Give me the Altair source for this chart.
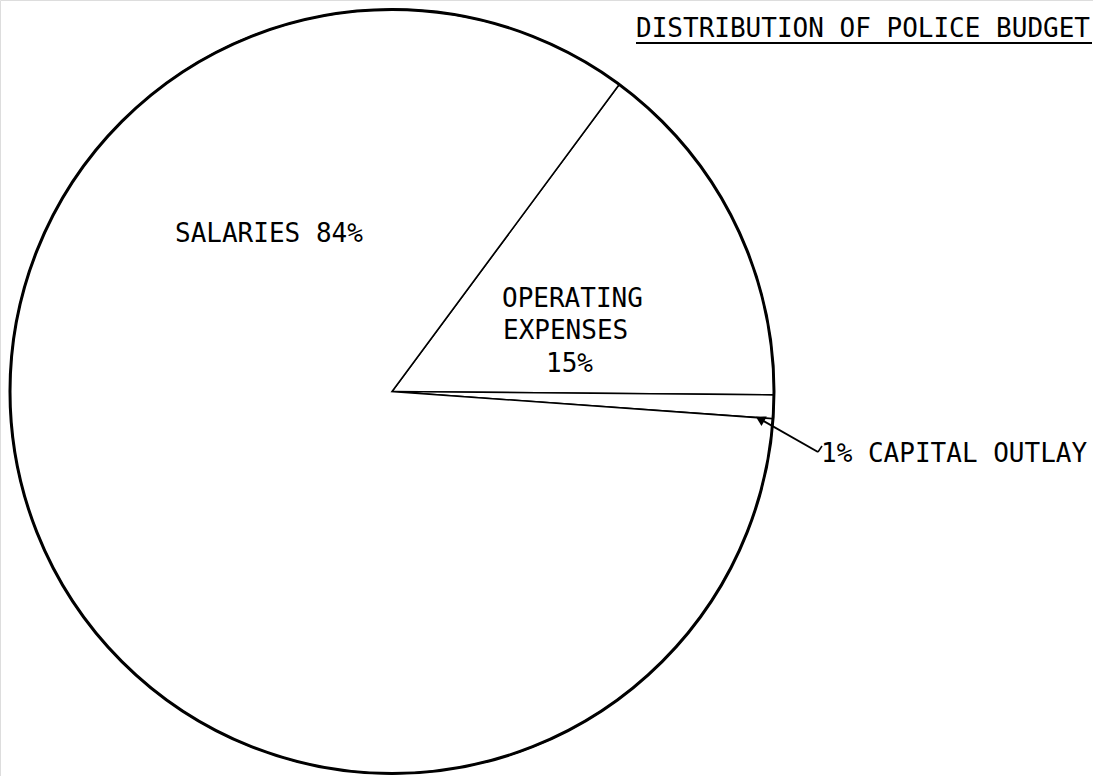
import math
import altair as alt
import pandas as pd

# Data
categories = ["OPERATING EXPENSES", "CAPITAL OUTLAY", "SALARIES"]
shares = [15, 1, 84]
order = [1, 2, 3]

title_text = "DISTRIBUTION OF POLICE BUDGET"
salaries_label = "SALARIES 84%"
operating_lines = ["OPERATING", "EXPENSES", "15%"]
capital_label = "1% CAPITAL OUTLAY"

FONT = "DejaVu Sans Mono"
FS = 26
CX, CY, R = 392, 391.5, 382
start = math.radians(36.5)

df = pd.DataFrame({"category": categories, "share": shares, "order": order})

W, H = 1093, 776

pie = alt.Chart(df).mark_arc(
    x=CX, y=CY, radius=R, fill="white", stroke="black", strokeWidth=1.6
).encode(
    theta=alt.Theta("share:Q", stack=True,
                    scale=alt.Scale(range=[start, start + 2 * math.pi])),
    order=alt.Order("order:O"),
)

outline = alt.Chart(pd.DataFrame({"a": [0]})).mark_arc(
    x=CX, y=CY, radius=R, fill=None, stroke="black", strokeWidth=3
).encode(theta=alt.value(0), theta2=alt.value(2 * math.pi))

def text_layer(txt, x, y, align="left"):
    return alt.Chart(pd.DataFrame({"t": [txt]})).mark_text(
        font=FONT, fontSize=FS, align=align, baseline="alphabetic", color="black"
    ).encode(text="t:N", x=alt.value(x), y=alt.value(y))

title = text_layer(title_text, 1090, 37, align="right")
underline = alt.Chart(pd.DataFrame({"a": [0]})).mark_rule(
    color="black", strokeWidth=2
).encode(x=alt.value(636), x2=alt.value(1092), y=alt.value(43))

sal = text_layer(salaries_label, 175, 242)
op1 = text_layer(operating_lines[0], 502, 307)
op2 = text_layer(operating_lines[1], 503, 339)
op3 = text_layer(operating_lines[2], 546, 372)
cap = text_layer(capital_label, 821, 462)

arrow_line = alt.Chart(pd.DataFrame({"a": [0]})).mark_rule(
    color="black", strokeWidth=2
).encode(x=alt.value(818), y=alt.value(452), x2=alt.value(760), y2=alt.value(419))
hook = alt.Chart(pd.DataFrame({"a": [0]})).mark_rule(
    color="black", strokeWidth=1.5
).encode(x=alt.value(818), y=alt.value(452), x2=alt.value(822), y2=alt.value(446))
arrow_head = alt.Chart(pd.DataFrame({"a": [0]})).mark_point(
    shape="triangle-up", filled=True, color="black", size=120, angle=299, opacity=1
).encode(x=alt.value(760), y=alt.value(419))

chart = alt.layer(
    pie, outline, title, underline, sal, op1, op2, op3, cap, arrow_line, hook, arrow_head
).properties(
    width=W, height=H, padding=0, autosize=alt.AutoSizeParams(type="none")
).configure_view(stroke=None).configure(background="white")

chart.save("out.html", embed_options={"renderer": "svg", "actions": False})
